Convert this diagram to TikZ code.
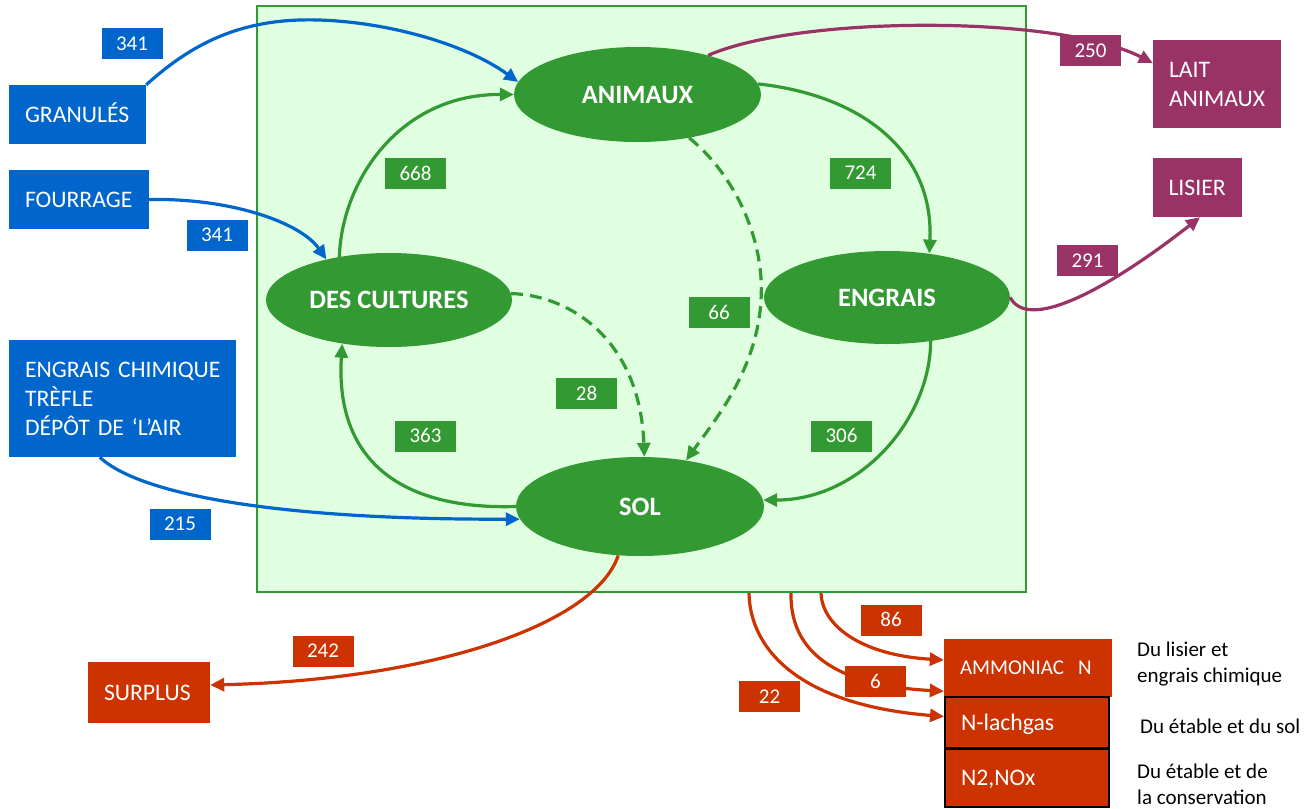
\documentclass[tikz,border=0pt]{standalone}
\usepackage{fontspec}
\setmainfont{Carlito}
\usetikzlibrary{arrows.meta,shapes.geometric,calc}
\definecolor{gr}{HTML}{339933}
\definecolor{lgr}{HTML}{E0FFE0}
\definecolor{bl}{HTML}{0066CC}
\definecolor{pu}{HTML}{993366}
\definecolor{rd}{HTML}{CC3300}
\begin{document}
\begin{tikzpicture}[x=1pt,y=-1pt,
  flow/.style={line width=3.2pt,-{Triangle[length=14pt,width=13pt]}},
  dashflow/.style={flow,dash pattern=on 12pt off 7pt},
  ell/.style={ellipse,fill=gr,text=white,inner sep=0pt,
    font=\fontsize{26.5}{30}\selectfont\bfseries,text height=17pt,text depth=0pt},
  box/.style={rectangle,text=white,inner xsep=16pt,inner ysep=0pt,align=left,
    font=\fontsize{23.7}{29}\selectfont},
  sline/.style={text height=15.3pt,text depth=0pt},
  lab/.style={rectangle,text=white,inner sep=0pt,minimum width=61pt,minimum height=31pt,
    font=\fontsize{21}{25}\selectfont,text height=13.3pt,text depth=0pt},
  note/.style={anchor=west,align=left,inner sep=0pt,font=\fontsize{21}{25.6}\selectfont},
]
\useasboundingbox (0,0) rectangle (1308,808);

% main frame
\node[rectangle,draw=gr,fill=lgr,line width=2pt,inner sep=0pt,
  minimum width=769pt,minimum height=586pt] (farm) at (641.5,299) {};

% ellipses
\node[ell,minimum width=247pt,minimum height=95pt] (anim) at (637.5,94.5) {ANIMAUX};
\node[ell,minimum width=246pt,minimum height=94pt] (cult) at (389,300) {DES CULTURES};
\node[ell,minimum width=246pt,minimum height=93pt] (engr) at (887,297.5) {ENGRAIS};
\node[ell,minimum width=248pt,minimum height=99pt] (sol) at (640,506.5) {SOL};

% blue input boxes
\node[box,sline,fill=bl,text width=105pt,minimum height=59pt] (gran) at (77.5,114.5) {\mbox{GRANULÉS}};
\node[box,sline,fill=bl,text width=108pt,minimum height=59pt] (four) at (79,199.5) {\mbox{FOURRAGE}};
\node[box,fill=bl,text width=195pt,minimum height=117pt] (chim) at (122.5,398.5)
  {\mbox{ENGRAIS CHIMIQUE}\\\mbox{TRÈFLE}\\\mbox{DÉPÔT DE ‘L’AIR}};

% purple output boxes
\node[box,fill=pu,text width=96pt,minimum height=88pt] (lait) at (1217,84) {\mbox{LAIT}\\\mbox{ANIMAUX}};
\node[box,sline,fill=pu,text width=57pt,minimum height=59pt] (lisier) at (1197,187.5) {\mbox{LISIER}};

% red output boxes
\node[box,sline,fill=rd,text width=90pt,minimum height=61pt] (surplus) at (149,692.5) {\mbox{SURPLUS}};
\node[box,fill=rd,text width=136pt,minimum height=58pt,font=\fontsize{21}{25}\selectfont,
  text height=13.5pt,text depth=0pt] (amm) at (1028,668) {\mbox{AMMONIAC\ \ N}};
\node[box,sline,fill=rd,draw=black,line width=2pt,text width=132pt,minimum height=51pt] (lach) at (1027,722.5) {\mbox{N-lachgas}};
\node[box,sline,fill=rd,draw=black,line width=2pt,text width=132pt,minimum height=58pt] (nox) at (1027,778) {\mbox{N2,NOx}};

% notes
\node[note] (ann1) at (1137,664) {Du lisier et\\engrais chimique};
\node[note] (ann2) at (1140,726) {Du étable et du sol};
\node[note] (ann3) at (1137,784) {Du étable et de\\la conservation};

% blue flows
\draw[flow,bl] (gran.north east) .. controls (185,50) and (230,22) .. (300,20)
  .. controls (370,18) and (460,40) .. (anim.174);
\draw[flow,bl] (four.east) .. controls (230,198) and (300,222) .. (cult.147);
\draw[flow,bl] ($(chim.south west)!0.4!(chim.south east)$) .. controls (140,495) and (280,520) .. (sol.186);

% green flows
\draw[flow,gr] (cult.139) .. controls (342,180) and (400,94) .. (anim.west);
\draw[flow,gr] (anim.5) .. controls (860,95) and (934,150) .. (engr.46);
\draw[dashflow,gr] (anim.-40) .. controls (735,175) and (765,240) .. (761,300)
  .. controls (757,370) and (715,420) .. (sol.45);
\draw[dashflow,gr] (cult.3) .. controls (570,295) and (640,340) .. (sol.85);
\draw[flow,gr] (engr.-45) .. controls (930,420) and (860,500) .. (sol.3);
\draw[flow,gr] (sol.west) .. controls (400,510) and (335,460) .. (cult.-137);

% purple flows
\draw[flow,pu] (anim.29) .. controls (800,15) and (1060,15) .. (lait.162);
\draw[flow,pu] (engr.east) .. controls (1030,335) and (1120,280) .. ($(lisier.south)+(3,0)$);

% red flows
\draw[flow,rd] (sol.-114) .. controls (595,625) and (430,680) .. (surplus.7);
\draw[flow,rd] ($(farm.south west)+(565,0)$) .. controls (822,625) and (860,655) .. ($(amm.west)+(0,-8)$);
\draw[flow,rd] ($(farm.south west)+(535,0)$) .. controls (790,645) and (825,685) .. ($(amm.south west)+(0,-6)$);
\draw[flow,rd] ($(farm.south west)+(493,0)$) .. controls (750,650) and (800,705) .. ($(lach.west)+(0,-6)$);

% value labels
\node[lab,fill=bl] (v341a) at (132,44) {341};
\node[lab,fill=bl] (v341b) at (217,235) {341};
\node[lab,fill=bl] (v215) at (180,524) {215};
\node[lab,fill=gr] (v668) at (415.5,173.5) {668};
\node[lab,fill=gr] (v724) at (860.5,173) {724};
\node[lab,fill=gr] (v66) at (719,312.5) {66};
\node[lab,fill=gr] (v28) at (586.5,393.5) {28};
\node[lab,fill=gr] (v363) at (425.5,436) {363};
\node[lab,fill=gr] (v306) at (841.5,436) {306};
\node[lab,fill=pu] (v250) at (1090.5,50.5) {250};
\node[lab,fill=pu] (v291) at (1087.5,260.5) {291};
\node[lab,fill=rd] (v242) at (323,651) {242};
\node[lab,fill=rd] (v86) at (891,620) {86};
\node[lab,fill=rd] (v6) at (875.5,681.5) {6};
\node[lab,fill=rd] (v22) at (769.5,696.5) {22};
\end{tikzpicture}
\end{document}
